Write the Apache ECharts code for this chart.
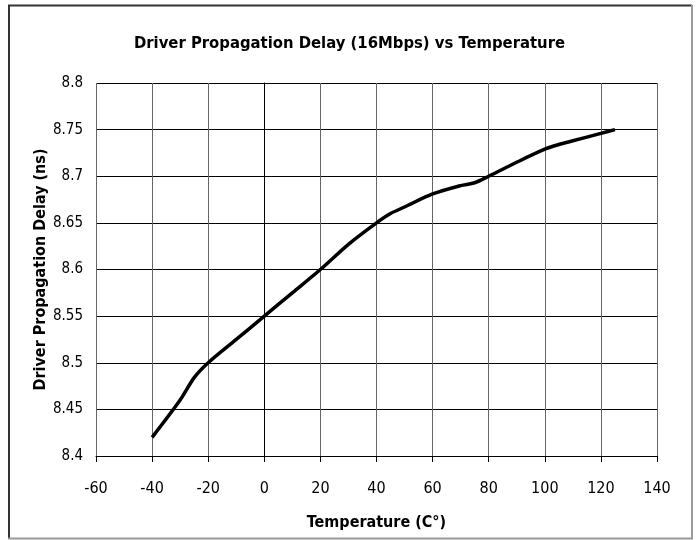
<!DOCTYPE html>
<html>
<head>
<meta charset="utf-8">
<script src="https://cdn.jsdelivr.net/npm/echarts@6/dist/echarts.min.js"></script>
<style>
html,body{margin:0;padding:0;background:#fff;}
#chart{width:699px;height:540px;}
</style>
</head>
<body>
<div id="chart"></div>
<script>
const temperatures = [-40, -30, -25, -20, -10, 0, 10, 20, 30, 40, 45, 50, 60, 70, 75, 80, 90, 100, 105, 110, 120, 125];
const delays = [8.42, 8.46, 8.484, 8.50, 8.525, 8.55, 8.575, 8.60, 8.627, 8.65, 8.66, 8.667, 8.681, 8.69, 8.693, 8.70, 8.715, 8.729, 8.734, 8.738, 8.746, 8.75];
const titleText = 'Driver Propagation Delay (16Mbps) vs Temperature';
const xName = 'Temperature (C°)';
const yName = 'Driver Propagation Delay (ns)';

const FONT = "'Liberation Sans Narrow', 'DejaVu Sans Condensed', 'Liberation Sans', sans-serif";
const chart = echarts.init(document.getElementById('chart'), null, {renderer: 'canvas'});
chart.setOption({
  animation: false,
  backgroundColor: '#fff',
  graphic: [
    {type: 'line', shape: {x1: 8, y1: 5.5, x2: 692, y2: 5.5}, style: {stroke: '#333', lineWidth: 2}},
    {type: 'line', shape: {x1: 9, y1: 5, x2: 9, y2: 538}, style: {stroke: '#333', lineWidth: 2}},
    {type: 'line', shape: {x1: 692, y1: 5, x2: 692, y2: 538.5}, style: {stroke: '#999', lineWidth: 2}},
    {type: 'line', shape: {x1: 8, y1: 538.5, x2: 693, y2: 538.5}, style: {stroke: '#999', lineWidth: 2}}
  ],
  title: {
    text: titleText, left: 'center', top: 30,
    textStyle: {fontFamily: FONT, fontSize: 16.5, fontWeight: 'bold', color: '#000'}
  },
  grid: {left: 96, right: 42, top: 83, bottom: 84},
  xAxis: {
    type: 'value', min: -60, max: 140, interval: 20,
    name: xName, nameLocation: 'middle', nameGap: 59, nameMoveOverlap: false,
    nameTextStyle: {fontFamily: FONT, fontSize: 16, fontWeight: 'bold', color: '#000'},
    axisLine: {show: true, lineStyle: {color: '#000', width: 1}},
    axisTick: {show: true, length: 6, lineStyle: {color: '#000'}},
    axisLabel: {fontFamily: FONT, fontSize: 16, color: '#000', margin: 25},
    splitLine: {show: true, lineStyle: {color: '#666', width: 1}}
  },
  yAxis: {
    type: 'value', min: 8.4, max: 8.8, interval: 0.05,
    name: yName, nameLocation: 'middle', nameGap: 47, nameRotate: 90, nameMoveOverlap: false,
    nameTextStyle: {fontFamily: FONT, fontSize: 16, fontWeight: 'bold', color: '#000'},
    axisLine: {show: true, lineStyle: {color: '#000', width: 1}},
    axisTick: {show: true, length: 5, lineStyle: {color: '#000'}},
    axisLabel: {fontFamily: FONT, fontSize: 15, color: '#000', margin: 13},
    splitLine: {show: true, lineStyle: {color: '#000', width: 1}}
  },
  series: [{
    type: 'line',
    data: temperatures.map((t, i) => [t, delays[i]]),
    smooth: 0.3,
    showSymbol: false,
    lineStyle: {color: '#000', width: 3.5},
    z: 5
  }]
});
</script>
</body>
</html>
